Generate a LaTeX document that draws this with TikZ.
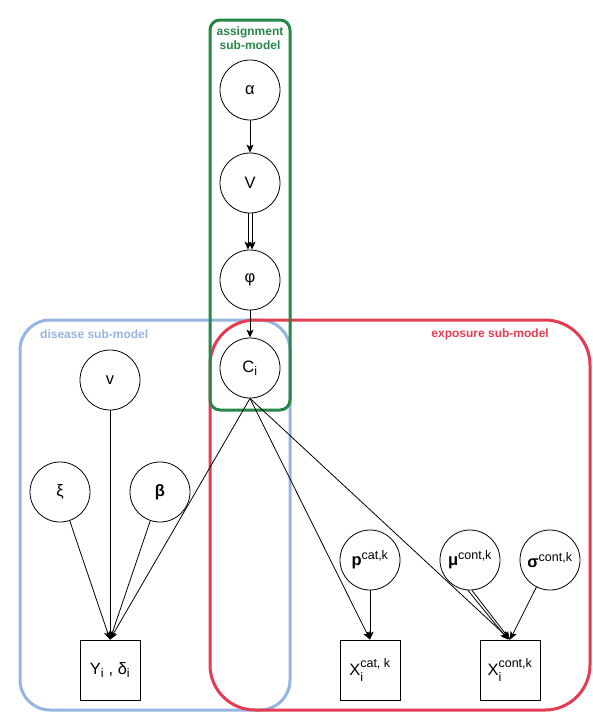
\documentclass[tikz,border=0pt]{standalone}
\usepackage{amsmath}
\usepackage{fontspec}
\setmainfont{Liberation Sans}
\usetikzlibrary{arrows.meta}
\definecolor{asgreen}{RGB}{38,135,72}
\definecolor{disblue}{RGB}{150,180,225}
\definecolor{expred}{RGB}{228,60,82}
\newcommand\smalltext[1]{\mbox{\fontsize{12.5}{13}\selectfont #1}}
\newcommand\upidx[1]{$^{\smalltext{#1}}$}
\newcommand\loidx[1]{$_{\smalltext{#1}}$}
\newcommand\bothidx[2]{$_{\smalltext{#1}}^{\smalltext{#2}}$}
\tikzset{
  var/.style={circle,draw,fill=white,line width=0.8pt,minimum size=60pt,inner sep=0pt,
    font=\fontsize{16.5}{19}\selectfont},
  obs/.style={rectangle,draw,fill=white,line width=0.8pt,minimum size=60pt,inner sep=0pt,
    font=\fontsize{16.5}{19}\selectfont},
  edge/.style={line width=0.8pt,-{Stealth[length=8pt,width=7pt,inset=2pt]}},
  platelabel/.style={font=\fontsize{12}{14}\selectfont\bfseries,inner sep=0pt}
}
\begin{document}
\begin{tikzpicture}[x=1pt,y=-1pt]
  \useasboundingbox (0,0) rectangle (593,712);
  % sub-model plates
  \draw[disblue,line width=3pt,rounded corners=30pt] (20,320) rectangle (290,710);
  \draw[expred,line width=3pt,rounded corners=45pt] (210,320) rectangle (590,710);
  \draw[asgreen,line width=3pt,rounded corners=10pt] (210,20) rectangle (290,410);
  \node[platelabel,asgreen,align=center] (lassign) at (250,38) {assignment\\sub-model};
  \node[platelabel,disblue,anchor=west] (ldis) at (40,334) {disease sub-model};
  \node[platelabel,expred,anchor=east] (lexp) at (549,334) {exposure sub-model};
  % assignment
  \node[var] (alpha) at (250,90) {α};
  \node[var] (V) at (250,183) {V};
  \node[var] (phi) at (250,280) {φ};
  \node[var] (C) at (250,368) {C\loidx{i}};
  % disease
  \node[var] (nu) at (110,380) {v};
  \node[var] (xi) at (60,492) {ξ};
  \node[var] (beta) at (160,492) {\textbf{β}};
  \node[obs] (Y) at (110,670) {Y\loidx{i} , δ\loidx{i}};
  % exposure
  \node[var] (pcat) at (370,560) {\textbf{p}\upidx{cat,k}};
  \node[var] (mu) at (470,560) {\textbf{μ}\upidx{cont,k}};
  \node[var] (sigma) at (550,560) {\textbf{σ}\upidx{cont,k}};
  \node[obs] (Xcat) at (370,670) {X\bothidx{i}{cat, k}};
  \node[obs] (Xcont) at (510,670) {X\bothidx{i}{cont,k}};
  % edges
  \draw[edge] (alpha) -- (V);
  \draw[edge] ([xshift=-2pt]V.south) -- ([xshift=-2pt]phi.north);
  \draw[edge] ([xshift=2pt]V.south) -- ([xshift=2pt]phi.north);
  \draw[edge] (phi) -- (C);
  \draw[edge] (nu) -- (Y);
  \draw[edge] (xi) -- (Y.north);
  \draw[edge] (beta) -- (Y.north);
  \draw[edge] (C.south) -- (Y.north);
  \draw[edge] (C.south) -- (Xcat.north);
  \draw[edge] (C.south) -- (Xcont.north);
  \draw[edge] (pcat) -- (Xcat);
  \draw[edge] ([xshift=-2pt]mu.south) -- ([xshift=-2pt]Xcont.north);
  \draw[edge] ([xshift=2pt]mu.south) -- (Xcont.north);
  \draw[edge] (sigma) -- (Xcont.north);
\end{tikzpicture}
\end{document}
